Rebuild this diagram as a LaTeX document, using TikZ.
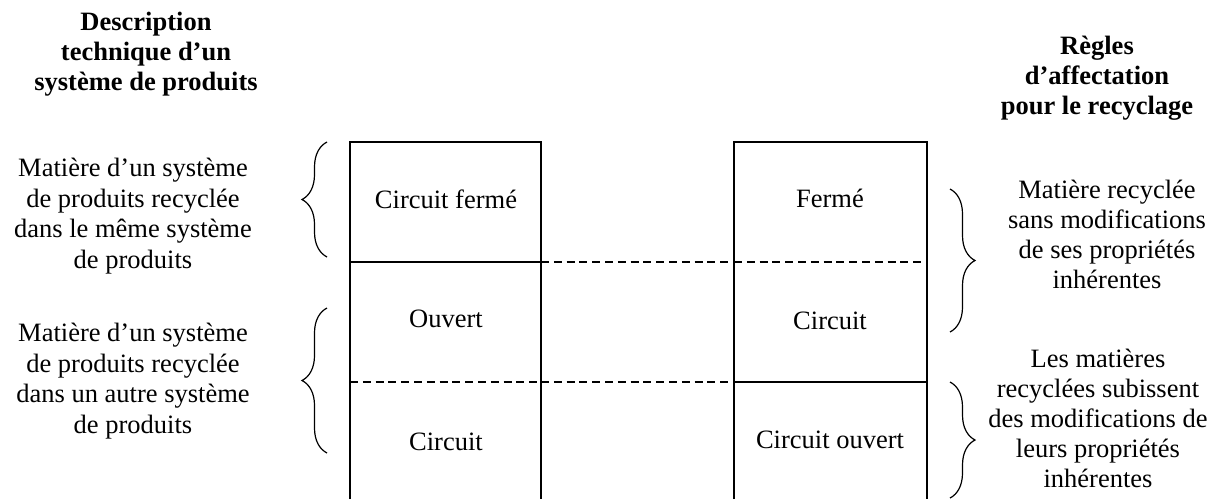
\documentclass[tikz,border=0pt]{standalone}
\usepackage{fontspec}
\setmainfont{Liberation Serif}
\usetikzlibrary{decorations.pathreplacing}
\begin{document}
\begin{tikzpicture}[x=0.5pt,y=-0.5pt, line width=0.7pt,
  txt/.style={align=center, inner sep=0pt, anchor=base, font=\fontsize{13.25pt}{15.2pt}\selectfont},
  hd/.style={align=center, inner sep=0pt, anchor=base, font=\fontsize{13.25pt}{15pt}\selectfont\bfseries},
  dsh/.style={dash pattern=on 4pt off 2.4pt},
  brc/.style={decorate, decoration={brace, amplitude=12.5pt}}]
\useasboundingbox (0,0) rectangle (1220,499);

% headings (base anchor = baseline of last line)
\node[hd] (hl) at (146,90) {Description\\technique d’un\\système de produits};
\node[hd] (hr) at (1097,114) {Règles\\d’affectation\\pour le recyclage};

% box coordinates
\coordinate (L1) at (350,142); \coordinate (L2) at (541,142);
\coordinate (La) at (350,262); \coordinate (Lb) at (541,262);
\coordinate (Lc) at (350,382); \coordinate (Ld) at (541,382);
\coordinate (L3) at (350,499); \coordinate (L4) at (541,499);
\coordinate (R1) at (734,142); \coordinate (R2) at (927,142);
\coordinate (Ra) at (734,262); \coordinate (Rb) at (927,262);
\coordinate (Rc) at (734,382); \coordinate (Rd) at (927,382);
\coordinate (R3) at (734,499); \coordinate (R4) at (927,499);

% left box
\draw (L3) -- (L1) -- (L2) -- (L4);
\draw (La) -- (Lb);
\draw[dsh] (Lc) -- (Ld);
% right box
\draw (R3) -- (R1) -- (R2) -- (R4);
\draw[dsh] (Ra) -- (Rb);
\draw (Rc) -- (Rd);
% connectors
\draw[dsh] (Lb) -- (Ra);
\draw[dsh] (Ld) -- (Rc);

% cell labels
\node[txt] (c1) at (446,208) {Circuit fermé};
\node[txt] (c2) at (446,327) {Ouvert};
\node[txt] (c3) at (446,450) {Circuit};
\node[txt] (d1) at (830,207) {Fermé};
\node[txt] (d2) at (830,329) {Circuit};
\node[txt] (d3) at (830,448) {Circuit ouvert};

% left descriptions
\node[txt] (t1) at (133,268) {Matière d’un système\\de produits recyclée\\dans le même système\\de produits};
\node[txt] (t2) at (133,433) {Matière d’un système\\de produits recyclée\\dans un autre système\\de produits};
% right descriptions
\node[txt, font=\fontsize{13.25pt}{15pt}\selectfont] (u1) at (1107,288) {Matière recyclée\\sans modifications\\de ses propriétés\\inhérentes};
\node[txt, font=\fontsize{13.25pt}{15pt}\selectfont] (u2) at (1098,487) {Les matières\\recyclées subissent\\des modifications de\\leurs propriétés\\inhérentes};

% braces
\coordinate (b1s) at (327,257); \coordinate (b1e) at (327,142);
\coordinate (b2s) at (327,453); \coordinate (b2e) at (327,308);
\coordinate (b3s) at (950,189); \coordinate (b3e) at (950,332);
\coordinate (b4s) at (950,382); \coordinate (b4e) at (950,498);
\draw[brc, line width=0.6pt] (b1s) -- (b1e);
\draw[brc, line width=0.6pt] (b2s) -- (b2e);
\draw[brc, line width=0.6pt] (b3s) -- (b3e);
\draw[brc, line width=0.6pt] (b4s) -- (b4e);
\end{tikzpicture}
\end{document}
